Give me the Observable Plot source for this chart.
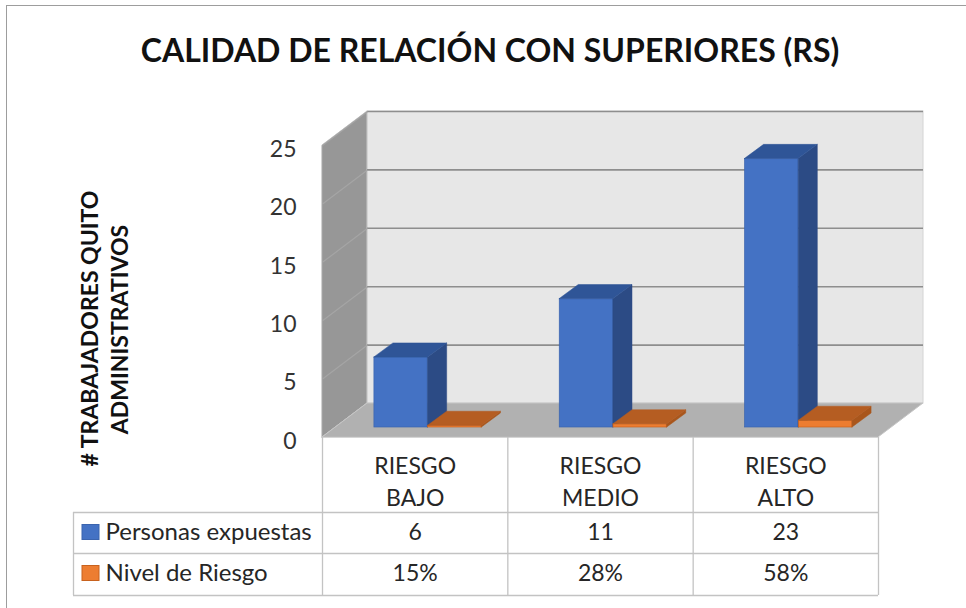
<!DOCTYPE html>
<html><head><meta charset="utf-8">
<script src="https://cdn.jsdelivr.net/npm/d3@7"></script>
<script src="https://cdn.jsdelivr.net/npm/@observablehq/plot@0.6"></script>
<style>
body{margin:0;background:#fff;}
#wrap{position:relative;width:966px;height:608px;overflow:hidden;font-family:Lato,"Open Sans",sans-serif;}
#frame{position:absolute;left:6px;top:5px;width:980px;height:620px;border:1.5px solid #9d9d9d;box-sizing:border-box;}
#title{position:absolute;left:0;top:31px;width:980px;text-align:center;font-weight:bold;font-size:32px;color:#111;font-family:Lato,sans-serif;line-height:38px;}
#chart{position:absolute;left:0;top:0;}
</style></head>
<body>
<div id="wrap"><div id="frame"></div><div id="title">CALIDAD DE RELACIÓN CON SUPERIORES (RS)</div><div id="chart"></div></div>
<script>
// ---- data ----
const categories = ["RIESGO\nBAJO", "RIESGO\nMEDIO", "RIESGO\nALTO"];
const seriesNames = ["Personas expuestas", "Nivel de Riesgo"];
const personas = [6, 11, 23];
const nivel = [0.15, 0.28, 0.58];
const nivelLabels = ["15%", "28%", "58%"];
const yTicks = [0, 5, 10, 15, 20, 25];
const yTitleLines = ["# TRABAJADORES QUITO", "ADMINISTRATIVOS"];

// ---- layout (pixels) ----
const X0 = 322, X1 = 878, Y0 = 437, Y25 = 145;
const xs = d3.scaleLinear().domain([0, 3]).range([X0, X1]);
const ys = d3.scaleLinear().domain([0, 25]).range([Y0, Y25]);
const ux = px => xs.invert(X0 + px);      // pixel offset -> x units
const uy = px => ys.invert(Y0 - px);      // pixel offset -> y units
const DX = ux(45), DY = uy(34);           // floor depth
const OX = ux(13), OY = uy(10);           // bar placement depth
const BDX = ux(19), BDY = uy(14);         // bar depth
const colors = {
  front: ["#4472c4", "#ed7d31"],
  side: ["#2c4b85", "#a9561c"],
  top: ["#2f5597", "#b55d22"],
  stroke: ["#3b64ae", "#c8621e"]
};

const bars = [];
categories.forEach((c, i) => {
  bars.push({id: "p" + i, s: 0, v: personas[i], x1: i + 0.21 + OX, x2: i + 0.5 + OX});
  bars.push({id: "n" + i, s: 1, v: nivel[i], x1: i + 0.5 + OX, x2: i + 0.79 + OX});
});
const sides = bars.flatMap(b => [
  {id: b.id, s: b.s, x: b.x2, y1: OY, y2: OY + b.v},
  {id: b.id, s: b.s, x: b.x2 + BDX, y1: OY + BDY, y2: OY + b.v + BDY}
]);
const tops = bars.flatMap(b => [
  {id: b.id, s: b.s, y: OY + b.v, x1: b.x1, x2: b.x2},
  {id: b.id, s: b.s, y: OY + b.v + BDY, x1: b.x1 + BDX, x2: b.x2 + BDX}
]);

function barMarks(s) {
  const B = bars.filter(d => d.s === s), S = sides.filter(d => d.s === s), T = tops.filter(d => d.s === s);
  return [
    Plot.rect(B, {x1: "x1", x2: "x2", y1: () => OY, y2: d => OY + d.v, fill: colors.front[s], stroke: colors.stroke[s], strokeWidth: 0.7}),
    Plot.areaY(S, {x: "x", y1: "y1", y2: "y2", z: "id", fill: colors.side[s], stroke: colors.side[s], strokeWidth: 0.5}),
    Plot.areaX(T, {y: "y", x1: "x1", x2: "x2", z: "id", fill: colors.top[s], stroke: colors.top[s], strokeWidth: 0.5})
  ];
}

// table geometry (pixels -> data units)
const tLeft = xs.invert(73);
const rowLines = [512, 553, 595].map(p => ys.invert(p));
const tableBottom = ys.invert(595);
const headerY = ys.invert(479);
const rowY = [ys.invert(532), ys.invert(573)];
const legendTextX = xs.invert(105);
const swX1 = xs.invert(82), swX2 = xs.invert(99);
const titleX = [xs.invert(90), xs.invert(120)];
const titleY = [ys.invert(328), ys.invert(329)];

const wallTicks = yTicks.slice(1);

const chart = Plot.plot({
  width: 966, height: 608,
  marginLeft: X0, marginRight: 966 - X1, marginTop: 111, marginBottom: 608 - Y0,
  x: {type: "linear", domain: [0, 3], range: [X0, X1], axis: null},
  y: {type: "linear", domain: [0, 25], range: [Y0, Y25], axis: null},
  style: {fontFamily: "Lato, sans-serif", background: "transparent", overflow: "visible"},
  marks: [
    // back wall
    Plot.rect([0], {x1: () => DX, x2: () => 3 + DX, y1: () => DY, y2: () => 25 + DY, fill: "#e7e7e7", stroke: "#d4d4d4", strokeWidth: 1}),
    // left wall
    Plot.areaY([{x: 0, y1: 0, y2: 25}, {x: DX, y1: DY, y2: 25 + DY}], {x: "x", y1: "y1", y2: "y2", fill: "#979797", stroke: "#c9c9c9", strokeWidth: 1}),
    // floor
    Plot.areaX([{y: 0, x1: 0, x2: 3}, {y: DY, x1: DX, x2: 3 + DX}], {y: "y", x1: "x1", x2: "x2", fill: "#b1b1b1", stroke: "#c6c6c6", strokeWidth: 1}),
    // gridlines
    Plot.ruleY(wallTicks, {y: d => d + DY, x1: () => DX, x2: () => 3 + DX, stroke: "#8e8e8e", strokeWidth: 1.6}),
    Plot.link(wallTicks, {x1: () => 0, y1: d => d, x2: () => DX, y2: d => d + DY, stroke: "#a5a5a5", strokeWidth: 1.2}),
    // bars
    ...barMarks(0),
    ...barMarks(1),
    // y axis
    Plot.axisY({ticks: yTicks, tickSize: 0, tickPadding: 26, fontSize: 23, fill: "#333", dy: 4, label: null}),
    // table lines
    Plot.ruleX([0, 1, 2, 3], {x: d => d, y1: () => 0, y2: () => tableBottom, stroke: "#c3c3c3", strokeWidth: 1.3}),
    Plot.ruleX([tLeft], {x: d => d, y1: () => rowLines[0], y2: () => tableBottom, stroke: "#c3c3c3", strokeWidth: 1.3}),
    Plot.ruleY(rowLines, {y: d => d, x1: () => tLeft, x2: () => 3, stroke: "#c3c3c3", strokeWidth: 1.3}),
    // table text
    Plot.text(categories, {x: (d, i) => i + 0.5, y: () => headerY, text: d => d, fontSize: 23, lineHeight: 1.39, fill: "#262626"}),
    Plot.text(personas, {x: (d, i) => i + 0.5, y: () => rowY[0], text: d => String(d), fontSize: 23, fill: "#262626"}),
    Plot.text(nivelLabels, {x: (d, i) => i + 0.5, y: () => rowY[1], text: d => d, fontSize: 23, fill: "#262626"}),
    Plot.text(seriesNames, {x: () => legendTextX, y: (d, i) => rowY[i], text: d => d, textAnchor: "start", fontSize: 24, fill: "#262626"}),
    Plot.rect(seriesNames, {x1: () => swX1, x2: () => swX2, y1: (d, i) => rowY[i] - uy(7.5), y2: (d, i) => rowY[i] + uy(7.5), fill: (d, i) => colors.front[i], stroke: (d, i) => colors.stroke[i]}),
    // y axis title
    Plot.text(yTitleLines, {x: (d, i) => titleX[i], y: (d, i) => titleY[i], text: d => d, rotate: -90, fontSize: 23, fontWeight: "bold", fill: "#111"})
  ]
});
document.getElementById("chart").appendChild(chart);
</script>
</body></html>
